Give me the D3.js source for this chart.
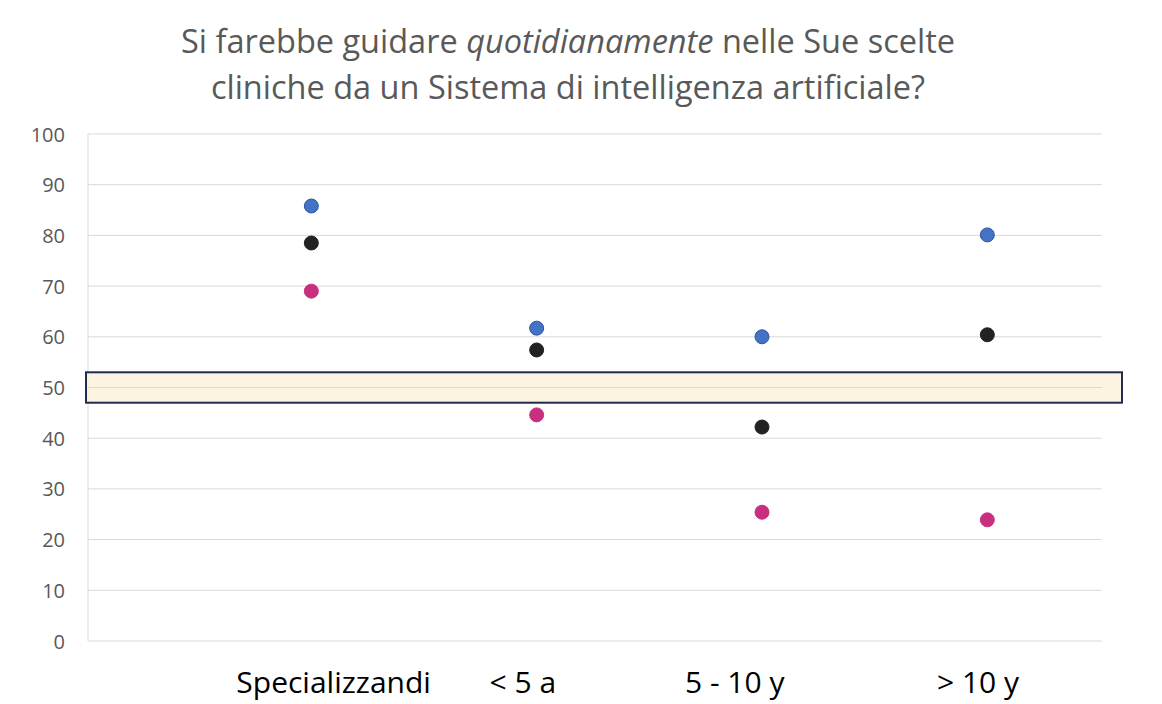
<!DOCTYPE html>
<html><head><meta charset="utf-8">
<script src="https://cdn.jsdelivr.net/npm/d3@7"></script>
<style>
body{margin:0;background:#fff;}
text{font-family:"Open Sans",sans-serif;}
</style></head>
<body><svg id="c" width="1162" height="704"></svg>
<script>
const categories = ["Specializzandi", "< 5 a", "5 - 10 y", "> 10 y"];
const blueValues = [85.8, 61.7, 60.0, 80.1];
const blackValues = [78.5, 57.4, 42.2, 60.4];
const magentaValues = [69.0, 44.6, 25.4, 23.9];
const yTicks = [0, 10, 20, 30, 40, 50, 60, 70, 80, 90, 100];
const band = [47, 53];
const titleLines = ["Si farebbe guidare ", "quotidianamente", " nelle Sue scelte", "cliniche da un Sistema di intelligenza artificiale?"];

const svg = d3.select("#c");
const L = 88, R = 1102, T = 134, B = 641;
const x = d3.scaleLinear().domain([0, 4.5]).range([L, R]);
const y = d3.scaleLinear().domain([0, 100]).range([B, T]);

// gridlines
svg.append("g").selectAll("line").data(yTicks).join("line")
  .attr("x1", L).attr("x2", R).attr("y1", d => y(d)).attr("y2", d => y(d))
  .attr("stroke", "#d9d9d9").attr("stroke-width", 1);
svg.append("line").attr("x1", L).attr("x2", L).attr("y1", T).attr("y2", B)
  .attr("stroke", "#d9d9d9");

// y axis labels
const yAxis = d3.axisLeft(y).tickValues(yTicks).tickSize(0).tickPadding(0);
const ga = svg.append("g").attr("transform", `translate(${L - 23},0)`).call(yAxis);
ga.select(".domain").remove();
ga.selectAll("text").attr("fill", "#595959").style("font-size", "20px")
  .style("font-family", "'Open Sans', sans-serif").attr("dy", "0.35em");

// band
svg.append("rect").attr("x", 86).attr("width", 1122 - 86)
  .attr("y", y(band[1])).attr("height", y(band[0]) - y(band[1]))
  .attr("fill", "#fdf1dc").attr("fill-opacity", 0.85)
  .attr("stroke", "#1f2d4e").attr("stroke-width", 2);
svg.append("line").attr("x1", L).attr("x2", R).attr("y1", y(50)).attr("y2", y(50))
  .attr("stroke", "#e2d8c6").attr("stroke-width", 1);

// points
const series = [
  {vals: blueValues, fill: "#4472c4", stroke: "#2f55a0"},
  {vals: blackValues, fill: "#222222", stroke: "#222222"},
  {vals: magentaValues, fill: "#c8307f", stroke: "#c8307f"}
];
series.forEach(s => {
  svg.append("g").selectAll("circle").data(s.vals).join("circle")
    .attr("cx", (d, i) => x(i + 1) - 2)
    .attr("cy", d => y(d)).attr("r", 7)
    .attr("fill", s.fill).attr("stroke", s.stroke).attr("stroke-width", 1);
});

// x labels
const labelX = [1.09, 1.93, 2.87, 3.95];
svg.append("g").selectAll("text").data(categories).join("text")
  .attr("x", (d, i) => x(labelX[i])).attr("y", 693)
  .attr("text-anchor", "middle").attr("fill", "#000").style("font-size", "30px")
  .text(d => d);

// title
const t1 = svg.append("text").attr("x", 568).attr("y", 53).attr("text-anchor", "middle")
  .attr("fill", "#595959").style("font-size", "32.5px");
t1.append("tspan").text(titleLines[0]);
t1.append("tspan").style("font-style", "italic").text(titleLines[1]);
t1.append("tspan").text(titleLines[2]);
svg.append("text").attr("x", 568).attr("y", 99).attr("text-anchor", "middle")
  .attr("fill", "#595959").style("font-size", "32.5px").text(titleLines[3]);
</script></body></html>
